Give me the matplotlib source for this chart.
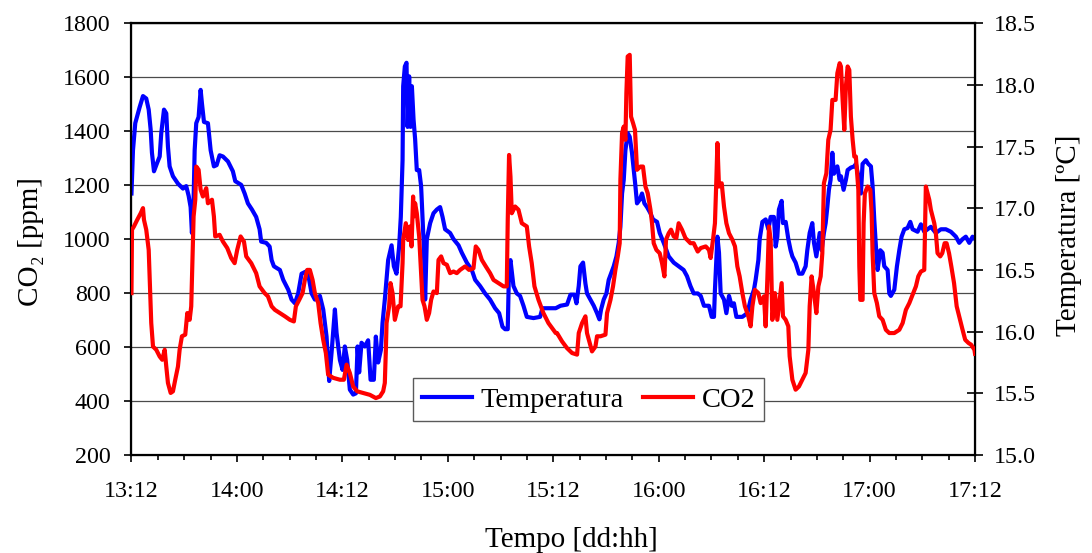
"""
plot.py
CO2 (left axis) and air temperature (right axis) logged from day 13, 12h
to day 17, 12h.  Values were read off the original chart by eye.
Output: out.png
"""

import matplotlib
matplotlib.use("Agg")
import matplotlib.pyplot as plt
from matplotlib.ticker import MultipleLocator, FormatStrFormatter

# time in hours since 13:12
temp_hours = [
    0.00, 0.17, 0.43, 0.93, 1.31, 1.68, 1.96, 2.18, 2.33, 2.56,
    2.93, 3.21, 3.39, 3.70, 3.96, 4.15, 4.34, 4.72, 5.29, 5.86,
    6.23, 6.51, 6.73, 6.88, 7.07, 7.19, 7.37, 7.64, 7.87, 8.02,
    8.25, 8.70, 9.01, 9.38, 9.69, 10.03, 10.41, 10.98, 11.54, 11.81,
    12.49, 12.88, 13.25, 13.71, 14.19, 14.58, 14.76, 15.33, 15.72,
    15.95, 16.21, 16.89, 17.27, 17.84, 18.22, 18.60, 18.97, 19.36, 19.93,
    20.22, 20.50, 20.87, 21.44, 21.82, 22.20, 22.50, 22.77, 23.15, 23.34,
    23.72, 24.02, 24.28, 24.55, 24.85, 25.23, 25.54, 25.73, 25.91, 26.18,
    26.56, 26.93, 27.21, 27.58, 27.81, 28.07, 28.38, 28.57, 28.83, 29.21,
    29.60, 29.86, 30.16, 30.46, 30.65, 30.85, 30.92, 31.11, 31.30, 31.42,
    31.60, 31.76, 31.91,
    32.10, 32.28, 32.47, 32.74, 32.96, 33.12, 33.27, 33.42, 33.61, 33.99,
    34.37, 34.75, 35.12, 35.40, 35.69, 36.26, 36.65, 37.22, 37.59, 38.16,
    38.73, 39.11, 39.67, 40.24, 40.81, 41.38, 41.84, 42.22, 42.52, 42.82,
    42.97, 43.13, 43.47, 43.85, 44.22, 44.61, 44.99, 45.75, 46.50, 46.77,
    47.41, 48.28,
    48.82, 49.57, 49.96, 50.41, 50.64, 50.90, 51.09, 51.39, 51.66, 51.84,
    52.23, 52.61, 52.98, 53.25, 53.44, 53.74, 54.05, 54.31, 54.57, 54.88,
    55.19, 55.45, 55.64, 55.83, 56.02, 56.21, 56.47, 56.70, 56.96, 57.16,
    57.35, 57.53, 57.84, 58.10, 58.37, 58.67, 59.06, 59.35, 59.81, 60.11,
    60.57, 61.14, 61.71, 62.27, 62.84, 63.22, 63.61, 63.98, 64.44,
    64.78, 65.15, 65.72, 66.03, 66.29, 66.40, 66.68, 66.86, 67.05, 67.43,
    67.70, 68.00, 68.30, 68.56, 68.84, 69.52, 70.09, 70.46, 70.84, 71.03,
    71.34, 71.49, 71.80, 72.17, 72.48, 72.74, 73.11, 73.31, 73.50, 73.68,
    73.99, 74.14, 74.45, 74.75, 75.01, 75.21, 75.58, 75.96, 76.34, 76.72,
    76.91, 77.18, 77.48, 77.67, 77.94, 78.32, 78.54, 78.80, 79.00, 79.19,
    79.37, 79.56, 79.76, 79.94, 80.33, 80.59,
    80.74, 81.04, 81.30, 81.50, 81.87, 82.26, 82.44, 82.72, 83.01, 83.20,
    83.58, 83.85, 84.15, 84.34, 84.53, 84.72, 84.91, 85.22, 85.48, 85.67,
    86.05, 86.24, 86.42, 86.81, 87.11, 87.38, 87.64, 87.95, 88.32, 88.63,
    88.89, 89.46, 89.84, 90.22, 90.60, 90.97, 91.54, 92.11, 92.68, 93.25,
    93.82, 94.20, 94.58, 94.95, 95.34, 95.72, 96.00,
]

temp_values = [
    17.12, 17.47, 17.69, 17.82, 17.91, 17.89, 17.80, 17.64, 17.45, 17.30,
    17.37, 17.42, 17.61, 17.80, 17.77, 17.50, 17.34, 17.26, 17.20, 17.16,
    17.18, 17.10, 17.01, 16.80, 17.07, 17.47, 17.69, 17.74, 17.96, 17.85,
    17.70, 17.69, 17.47, 17.34, 17.35, 17.43, 17.42, 17.38, 17.30, 17.22,
    17.19, 17.12, 17.04, 16.99, 16.93, 16.83, 16.73, 16.72, 16.69,
    16.58, 16.53, 16.50, 16.42, 16.34, 16.26, 16.23, 16.31, 16.47, 16.49,
    16.42, 16.31, 16.26, 16.29, 16.18, 15.96, 15.60, 15.83, 16.18, 15.99,
    15.77, 15.69, 15.88, 15.77, 15.53, 15.49, 15.50, 15.88, 15.67, 15.91,
    15.88, 15.93, 15.61, 15.61, 15.96, 15.75, 15.85, 16.07, 16.26, 16.58,
    16.70, 16.53, 16.47, 16.69, 16.93, 17.39, 17.99, 18.15, 18.18, 17.66,
    18.07, 17.66, 17.99,
    17.72, 17.56, 17.31, 17.31, 17.18, 16.93, 16.69, 16.26, 16.75, 16.88,
    16.96, 16.99, 17.01, 16.93, 16.83, 16.80, 16.75, 16.70, 16.64, 16.56,
    16.50, 16.42, 16.37, 16.31, 16.26, 16.19, 16.15, 16.04, 16.02, 16.02,
    16.53, 16.58, 16.37, 16.31, 16.29, 16.21, 16.12, 16.11, 16.12, 16.19,
    16.19, 16.19,
    16.21, 16.22, 16.30, 16.30, 16.23, 16.37, 16.53, 16.56, 16.39, 16.31,
    16.26, 16.21, 16.15, 16.10, 16.18, 16.26, 16.31, 16.42, 16.47, 16.53,
    16.61, 16.72, 16.85, 17.12, 17.23, 17.47, 17.61, 17.58, 17.45, 17.31,
    17.18, 17.04, 17.07, 17.12, 17.04, 17.01, 16.96, 16.91, 16.89, 16.80,
    16.72, 16.61, 16.56, 16.53, 16.50, 16.45, 16.37, 16.31, 16.31,
    16.29, 16.21, 16.21, 16.12, 16.12, 16.34, 16.77, 16.64, 16.31, 16.26,
    16.15, 16.29, 16.21, 16.23, 16.12, 16.12, 16.15, 16.26, 16.34, 16.42,
    16.58, 16.75, 16.89, 16.91, 16.83, 16.93, 16.93, 16.69, 16.77, 16.99,
    17.06, 16.88, 16.89, 16.75, 16.66, 16.61, 16.56, 16.47, 16.47, 16.53,
    16.66, 16.80, 16.88, 16.72, 16.61, 16.80, 16.66, 16.80, 16.88, 17.01,
    17.15, 17.23, 17.45, 17.28, 17.34, 17.23,
    17.26, 17.15, 17.23, 17.31, 17.33, 17.34, 17.36, 17.26, 17.12, 17.36,
    17.39, 17.36, 17.34, 17.18, 16.91, 16.69, 16.50, 16.66, 16.64, 16.53,
    16.50, 16.31, 16.29, 16.34, 16.53, 16.66, 16.77, 16.83, 16.84, 16.89,
    16.83, 16.81, 16.87, 16.81, 16.83, 16.85, 16.80, 16.83, 16.83, 16.81,
    16.77, 16.72, 16.75, 16.77, 16.72, 16.77, 16.75,
]

co2_hours = [
    0.00, 0.06, 0.28, 0.66, 1.05, 1.31, 1.42, 1.68, 1.96, 2.10,
    2.25, 2.45, 2.82, 3.21, 3.50, 3.78, 3.96, 4.15, 4.46, 4.72,
    4.98, 5.29, 5.48, 5.74, 6.12, 6.35, 6.62, 6.80, 6.92, 7.07,
    7.26, 7.37, 7.64, 7.87, 8.13, 8.51, 8.70, 9.16, 9.38, 9.53,
    10.03, 10.41, 10.90, 11.35, 11.74, 12.03, 12.42, 12.80, 13.06, 13.63,
    14.19, 14.58, 15.15, 15.53,
    15.95, 16.32, 16.89, 17.46, 18.03, 18.48, 18.71, 19.09, 19.47, 19.73,
    20.00, 20.30, 20.61, 20.87, 21.25, 21.52, 21.82, 22.12, 22.38, 22.95,
    23.72, 24.17, 24.48, 24.85, 25.23, 25.68, 26.37, 27.13, 27.81, 28.27,
    28.64, 28.83, 28.95, 29.03, 29.32, 29.48, 29.71, 29.97, 30.35, 30.62,
    30.85, 30.92, 31.22, 31.48, 31.68, 31.87, 32.05,
    32.10, 32.28, 32.47, 32.74, 32.96, 33.12, 33.35, 33.61, 33.87, 34.10,
    34.37, 34.75, 34.94, 35.24, 35.51, 35.89, 36.26, 36.65, 37.02, 37.40,
    37.97, 38.42, 38.92, 39.18, 39.49, 39.87, 40.32, 40.81, 41.20, 41.77,
    42.34, 42.71, 42.82, 42.97, 43.13, 43.28, 43.66, 44.04, 44.42, 44.99,
    45.25, 45.55, 45.86, 46.32, 46.88, 47.45, 48.28,
    48.43, 49.00, 49.57, 50.14, 50.71, 50.90, 51.28, 51.66, 51.84, 52.15,
    52.41, 52.80, 52.98, 53.37, 53.94, 54.12, 54.51, 54.80, 55.07, 55.34,
    55.56, 55.64, 55.83, 56.02, 56.21, 56.32, 56.47, 56.70, 56.85, 57.08,
    57.30, 57.53, 57.92, 58.21, 58.49, 58.75, 59.06, 59.24, 59.43, 59.74,
    60.11, 60.38, 60.65, 60.83, 61.14, 61.40, 61.71, 62.01, 62.27, 62.65,
    63.04, 63.61, 63.98, 64.44,
    64.78, 65.35, 65.72, 65.91, 66.18, 66.40, 66.56, 66.68, 66.86, 67.17,
    67.43, 67.70, 68.00, 68.38, 68.68, 68.95, 69.21, 69.52, 69.81, 70.20,
    70.46, 70.66, 70.95, 71.34, 71.60, 71.98, 72.17, 72.36, 72.55, 72.74,
    72.93, 73.23, 73.50, 73.76, 73.99, 74.14, 74.45, 74.75, 74.90, 75.21,
    75.58, 75.96, 76.34, 76.72, 77.03, 77.18, 77.40, 77.67, 77.94, 78.17,
    78.43, 78.62, 78.80, 79.08, 79.30, 79.56, 79.76, 80.13, 80.33, 80.59,
    80.74, 80.93, 81.12, 81.30, 81.50, 81.69, 81.87, 82.07, 82.26, 82.44,
    82.72, 82.83, 82.94, 83.20, 83.32, 83.46, 83.77, 84.08, 84.23, 84.34,
    84.53, 84.83, 85.10, 85.48, 85.85, 86.24, 86.81, 87.38, 87.76, 88.13,
    88.52, 88.89, 89.27, 89.54, 89.84, 90.22, 90.40, 90.60, 90.79, 90.97,
    91.36, 91.54, 91.73, 92.04, 92.27, 92.54, 92.76, 93.04, 93.30, 93.61,
    93.91, 94.29, 94.58, 94.88, 95.26, 95.55, 95.93, 96.00,
]

co2_values = [
    800, 1035, 1047, 1072, 1096, 1115, 1072, 1035, 960, 825,
    689, 602, 590, 565, 553, 590, 528, 467, 430, 436,
    479, 528, 590, 640, 646, 726, 701, 751, 899, 1084,
    1146, 1269, 1257, 1183, 1158, 1189, 1133, 1146, 1084, 1010,
    1016, 991, 967, 930, 911, 960, 1010, 991, 936, 911,
    874, 825, 800, 788,
    751, 738, 726, 714, 701, 695, 751, 775, 800, 849,
    886, 886, 849, 800, 763, 689, 627, 578, 498, 486,
    479, 479, 535, 504, 454, 436, 430, 423, 411, 417,
    436, 467, 590, 689, 751, 837, 800, 701, 751, 751,
    911, 997, 1059, 997, 1047, 973, 1158,
    1084, 1133, 1096, 1010, 874, 775, 751, 701, 726, 775,
    806, 800, 923, 936, 911, 905, 874, 880, 874, 886,
    899, 886, 892, 973, 960, 923, 899, 874, 849, 837,
    825, 825, 1072, 1312, 1232, 1096, 1121, 1109, 1059, 1047,
    973, 911, 825, 775, 726, 689, 652,
    652, 621, 596, 578, 572, 652, 689, 714, 652, 615,
    584, 602, 640, 640, 646, 726, 775, 825, 886, 936,
    985, 1220, 1393, 1417, 1368, 1541, 1677, 1683, 1454, 1430,
    1405, 1257, 1269, 1269, 1195, 1170, 1109, 1059, 985, 960,
    948, 911, 862, 998, 1022, 1035, 1010, 1004, 1059, 1035,
    1004, 985, 985, 954,
    967, 973, 960, 930, 998, 1059, 1220, 1356, 1195, 1207,
    1121, 1059, 1022, 998, 973, 899, 862, 800, 751, 714,
    677, 751, 812, 800, 763, 788, 677, 849, 1047, 998,
    701, 800, 701, 775, 837, 714, 701, 677, 566, 479,
    442, 454, 479, 504, 590, 751, 862, 800, 726, 825,
    862, 948, 1207, 1244, 1368, 1405, 1516, 1516, 1615, 1652,
    1640, 1516, 1405, 1565, 1640, 1627, 1454, 1368, 1306, 1306,
    1183, 899, 775, 775, 1059, 1170, 1195, 1183, 1096, 948,
    800, 763, 714, 701, 664, 652, 652, 664, 689, 738,
    763, 794, 825, 862, 880, 886, 1195, 1170, 1146, 1109,
    1059, 1022, 948, 936, 948, 985, 985, 948, 899, 837,
    751, 701, 664, 627, 615, 609, 590, 575,
]

tick_hours  = [0, 12, 24, 36, 48, 60, 72, 84, 96]
tick_labels = ["13:12", "14:00", "14:12", "15:00", "15:12",
               "16:00", "16:12", "17:00", "17:12"]

plt.rcParams["font.family"] = ["Liberation Serif", "DejaVu Serif"]

fig = plt.figure(figsize=(10.92, 5.53), dpi=100)
rect = [0.1204, 0.1772, 0.7725, 0.7807]

# bottom axes: CO2 scale, gridlines, left and bottom ticks
ax = fig.add_axes(rect)
ax.set_xlim(0, 96)
ax.set_ylim(200, 1800)
ax.set_yticks(range(200, 1801, 200))
ax.set_xticks(tick_hours)
ax.set_xticklabels(tick_labels)
ax.xaxis.set_minor_locator(MultipleLocator(3))
ax.yaxis.grid(True, color="#4a4a4a", lw=0.9)
ax.set_axisbelow(True)
ax.tick_params(axis="x", which="major", direction="out", length=5,
               width=1.2, pad=14, labelsize=17.3)
ax.tick_params(axis="x", which="minor", direction="out", length=3.5,
               width=1.2)
ax.tick_params(axis="y", direction="out", length=5, width=1.2, pad=10,
               labelsize=17.3)
for side in ["left", "bottom", "top"]:
    ax.spines[side].set_linewidth(1.6)

# temperature on the secondary axis
ax2 = ax.twinx()
ax2.set_ylim(15, 18.5)
ax2.yaxis.set_major_locator(MultipleLocator(0.5))
ax2.yaxis.set_major_formatter(FormatStrFormatter("%.1f"))
ax2.tick_params(axis="y", direction="inout", length=11, width=1.2, pad=8,
                labelsize=17.3)
ax2.spines["right"].set_linewidth(1.6)
line_t, = ax2.plot(temp_hours, temp_values, color="#0000ff", lw=3.0,
                   label="Temperatura")

# CO2 drawn on a transparent overlay sharing the left scale, so it sits on top
ax3 = fig.add_axes(rect, sharex=ax, sharey=ax)
ax3.set_axis_off()
ax3.patch.set_visible(False)
line_c, = ax3.plot(co2_hours, co2_values, color="#ff0000", lw=3.0,
                   label="CO2")

leg = ax3.legend(handles=[line_t, line_c], loc="upper left",
                 bbox_to_anchor=(0.3785, 0.3159),
                 bbox_transform=fig.transFigure, ncol=2, fontsize=20.5,
                 frameon=True, fancybox=False, framealpha=1,
                 edgecolor="#5a5a5a", borderpad=0.3, borderaxespad=0,
                 handlelength=1.75, handletextpad=0.3, columnspacing=0.7)
leg.get_frame().set_linewidth(1.0)

fig.text(0.0284, 0.564, "CO\u2082 [ppm]", rotation=90, ha="center",
         va="center", fontsize=21)
fig.text(0.979, 0.574, "Temperatura [\u00baC]", rotation=90, ha="center",
         va="center", fontsize=21)
fig.text(0.523, 0.0114, "Tempo [dd:hh]", ha="center", va="baseline",
         fontsize=21)

fig.savefig("out.png", dpi=100)
